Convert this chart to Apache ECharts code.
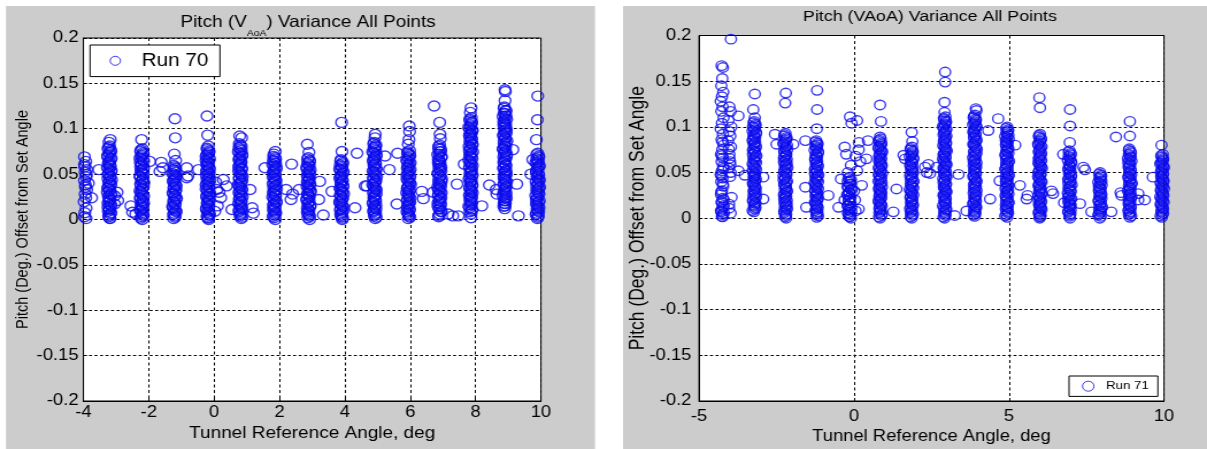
<!DOCTYPE html>
<html>
<head>
<meta charset="utf-8" />
<title>Pitch (VAoA) Variance All Points</title>
<script src="https://cdn.jsdelivr.net/npm/echarts@6.0.0/dist/echarts.min.js"></script>
<style>
  html, body { margin: 0; padding: 0; background: #fff; overflow: hidden; }
  /* the scanned figure is stretched sideways, so the chart is drawn narrower and stretched too */
  #main { width: 1050px; height: 449px; transform: scaleX(1.1495); transform-origin: 0 0; }
</style>
</head>
<body>
<div id="main"></div>
<script type="text/javascript">
// Run 70: [tunnel reference angle, pitch offset], grouped by set point
var run70 = [
  [-3.97,0.069],[-3.93,0.064],[-3.96,0.058],[-3.9,0.055],[-3.95,0.052],[-3.92,0.047],[-3.97,0.043],[-3.94,0.038],[-3.9,0.033],[-3.95,0.028],[-3.93,0.024],[-3.85,0.04],[-3.97,0.003],[-3.92,0.001],[-3.75,0.024],[-3.53,0.055],
  [-3.18,0.088],[-3.22,0.085],[-3.2,0.081],[-3.25,0.078],[-3.16,0.075],[-3.21,0.072],[-3.26,0.069],[-3.17,0.066],[-3.23,0.063],[-3.19,0.06],[-3.27,0.057],[-3.15,0.054],[-3.22,0.051],[-3.18,0.048],[-3.25,0.045],[-3.2,0.042],[-3.16,0.039],[-3.24,0.036],[-3.19,0.033],[-3.27,0.03],[-3.17,0.027],[-3.22,0.024],[-3.2,0.021],[-3.25,0.018],[-3.16,0.015],[-3.21,0.012],[-3.24,0.009],[-3.18,0.006],[-3.22,0.003],[-3.19,0.001],
  [-2.97,0.03],[-2.95,0.021],[-3.05,0.026],[-3.05,0.017],
  [-2.22,0.088],[-2.2,0.078],[-2.25,0.075],[-2.17,0.072],[-2.23,0.069],[-2.19,0.066],[-2.26,0.063],[-2.21,0.06],[-2.16,0.057],[-2.24,0.054],[-2.2,0.051],[-2.27,0.048],[-2.18,0.045],[-2.22,0.042],[-2.25,0.039],[-2.17,0.036],[-2.21,0.033],[-2.24,0.03],[-2.19,0.027],[-2.26,0.024],[-2.2,0.021],[-2.16,0.018],[-2.23,0.015],[-2.2,0.012],[-2.25,0.009],[-2.18,0.006],[-2.22,0.003],[-2.2,0.0],
  [-2.55,0.015],[-2.5,0.008],[-1.97,0.064],[-2.4,0.006],[-1.62,0.063],[-1.57,0.057],[-1.66,0.053],
  [-1.2,0.111],[-1.19,0.09],[-1.22,0.072],[-1.18,0.065],[-1.21,0.058],[-1.24,0.055],[-1.17,0.052],[-1.22,0.049],[-1.19,0.046],[-1.25,0.043],[-1.2,0.04],[-1.16,0.037],[-1.23,0.034],[-1.19,0.031],[-1.25,0.028],[-1.21,0.025],[-1.17,0.022],[-1.23,0.019],[-1.2,0.016],[-1.26,0.013],[-1.18,0.01],[-1.22,0.007],[-1.2,0.004],[-1.24,0.001],
  [-0.84,0.057],[-0.84,0.046],[-0.48,0.055],[-0.8,0.048],
  [-0.22,0.114],[-0.2,0.093],[-0.18,0.081],[-0.21,0.077],[-0.16,0.074],[-0.23,0.071],[-0.19,0.068],[-0.25,0.065],[-0.17,0.062],[-0.21,0.059],[-0.14,0.056],[-0.24,0.053],[-0.19,0.05],[-0.15,0.047],[-0.22,0.044],[-0.18,0.041],[-0.25,0.038],[-0.16,0.035],[-0.2,0.032],[-0.13,0.029],[-0.23,0.026],[-0.18,0.023],[-0.15,0.02],[-0.21,0.017],[-0.17,0.014],[-0.24,0.011],[-0.19,0.008],[-0.14,0.005],[-0.2,0.002],[-0.17,0.0],
  [0.08,0.033],[0.38,0.037],[0.28,0.044],[0.05,0.041],[0.15,0.03],[0.1,0.015],[0.2,0.024],[0.02,0.009],
  [0.78,0.092],[0.84,0.09],[0.8,0.082],[0.76,0.079],[0.83,0.076],[0.79,0.073],[0.85,0.07],[0.77,0.067],[0.82,0.064],[0.8,0.061],[0.75,0.058],[0.84,0.055],[0.79,0.052],[0.82,0.049],[0.77,0.046],[0.85,0.043],[0.8,0.04],[0.76,0.037],[0.83,0.034],[0.78,0.031],[0.81,0.028],[0.86,0.025],[0.77,0.022],[0.82,0.019],[0.79,0.016],[0.84,0.013],[0.76,0.01],[0.81,0.007],[0.79,0.004],[0.83,0.001],
  [1.1,0.033],[1.16,0.013],[1.2,0.007],[0.54,0.011],[1.55,0.057],
  [1.87,0.075],[1.83,0.072],[1.86,0.068],[1.81,0.065],[1.88,0.062],[1.84,0.059],[1.9,0.056],[1.82,0.053],[1.86,0.05],[1.8,0.047],[1.88,0.044],[1.84,0.041],[1.89,0.038],[1.82,0.035],[1.86,0.032],[1.81,0.029],[1.88,0.026],[1.84,0.023],[1.9,0.02],[1.83,0.017],[1.86,0.014],[1.81,0.011],[1.88,0.008],[1.85,0.005],[1.83,0.002],[1.87,0.0],
  [2.37,0.061],[2.2,0.033],[2.4,0.028],[2.35,0.022],
  [2.85,0.083],[2.9,0.074],[2.88,0.068],[2.92,0.065],[2.86,0.062],[2.91,0.059],[2.84,0.056],[2.89,0.053],[2.93,0.05],[2.87,0.047],[2.9,0.044],[2.85,0.041],[2.92,0.038],[2.88,0.035],[2.94,0.032],[2.86,0.029],[2.9,0.026],[2.84,0.023],[2.91,0.02],[2.87,0.017],[2.93,0.014],[2.88,0.011],[2.85,0.008],[2.9,0.005],[2.87,0.002],[2.92,0.0],
  [3.23,0.042],[3.2,0.022],[2.6,0.033],[3.34,0.005],[3.6,0.031],
  [3.9,0.107],[3.91,0.075],[3.88,0.066],[3.93,0.063],[3.86,0.06],[3.91,0.057],[3.87,0.054],[3.94,0.051],[3.89,0.048],[3.85,0.045],[3.92,0.042],[3.88,0.039],[3.94,0.036],[3.87,0.033],[3.91,0.03],[3.86,0.027],[3.93,0.024],[3.89,0.021],[3.85,0.018],[3.92,0.015],[3.88,0.012],[3.94,0.009],[3.87,0.006],[3.9,0.003],[3.92,0.0],
  [4.37,0.073],[4.31,0.013],[4.62,0.037],
  [4.93,0.094],[4.92,0.09],[4.9,0.085],[4.95,0.082],[4.89,0.079],[4.94,0.076],[4.88,0.073],[4.96,0.07],[4.91,0.067],[4.87,0.064],[4.94,0.061],[4.9,0.058],[4.96,0.055],[4.89,0.052],[4.93,0.049],[4.87,0.046],[4.95,0.043],[4.91,0.04],[4.88,0.037],[4.94,0.034],[4.9,0.031],[4.96,0.028],[4.89,0.025],[4.93,0.022],[4.87,0.019],[4.95,0.016],[4.91,0.013],[4.88,0.01],[4.94,0.007],[4.9,0.004],[4.93,0.001],
  [5.23,0.07],[5.36,0.055],[5.61,0.073],[5.59,0.017],[4.67,0.037],
  [5.97,0.103],[5.98,0.097],[5.96,0.088],[5.94,0.083],[5.98,0.076],[5.92,0.073],[5.99,0.07],[5.95,0.067],[5.91,0.064],[5.97,0.061],[5.93,0.058],[6.0,0.055],[5.94,0.052],[5.9,0.049],[5.97,0.046],[5.93,0.043],[5.99,0.04],[5.95,0.037],[5.91,0.034],[5.98,0.031],[5.94,0.028],[5.96,0.025],[5.92,0.022],[5.99,0.019],[5.95,0.016],[5.91,0.013],[5.97,0.01],[5.93,0.007],[5.96,0.004],[5.94,0.001],
  [6.35,0.031],[6.4,0.023],
  [6.73,0.125],[6.9,0.107],[6.91,0.094],[6.92,0.089],[6.9,0.082],[6.87,0.078],[6.93,0.075],[6.89,0.072],[6.95,0.069],[6.86,0.066],[6.91,0.063],[6.88,0.06],[6.94,0.057],[6.9,0.054],[6.85,0.051],[6.92,0.048],[6.88,0.045],[6.95,0.042],[6.89,0.039],[6.93,0.036],[6.86,0.033],[6.91,0.03],[6.87,0.027],[6.94,0.024],[6.9,0.021],[6.85,0.018],[6.92,0.015],[6.88,0.012],[6.95,0.009],[6.9,0.006],[6.87,0.003],
  [7.43,0.039],[7.16,0.006],[7.47,0.004],[6.7,0.03],[7.3,0.004],
  [7.86,0.123],[7.84,0.118],[7.87,0.112],[7.83,0.109],[7.88,0.106],[7.85,0.103],[7.82,0.1],[7.89,0.097],[7.86,0.094],[7.83,0.091],[7.88,0.088],[7.84,0.085],[7.9,0.082],[7.85,0.079],[7.81,0.076],[7.87,0.073],[7.84,0.07],[7.89,0.067],[7.83,0.064],[7.86,0.061],[7.82,0.058],[7.88,0.055],[7.85,0.052],[7.9,0.049],[7.83,0.046],[7.87,0.043],[7.84,0.04],[7.89,0.037],[7.82,0.034],[7.86,0.031],[7.84,0.028],[7.88,0.025],[7.83,0.022],[7.87,0.019],[7.85,0.016],[7.82,0.013],[7.88,0.01],[7.86,0.006],
  [8.19,0.015],[7.65,0.061],[8.42,0.038],[7.86,0.002],
  [8.9,0.143],[8.91,0.141],[8.9,0.131],[8.88,0.124],[8.92,0.12],[8.87,0.117],[8.93,0.114],[8.89,0.111],[8.86,0.108],[8.92,0.105],[8.88,0.102],[8.94,0.099],[8.9,0.096],[8.86,0.093],[8.91,0.09],[8.87,0.087],[8.93,0.084],[8.89,0.081],[8.85,0.078],[8.92,0.075],[8.88,0.072],[8.94,0.069],[8.9,0.066],[8.86,0.063],[8.91,0.06],[8.87,0.057],[8.93,0.054],[8.89,0.051],[8.92,0.048],[8.87,0.045],[8.91,0.042],[8.88,0.039],[8.93,0.036],[8.9,0.033],[8.86,0.03],[8.92,0.027],[8.88,0.024],[8.91,0.021],[8.87,0.018],[8.9,0.015],[8.89,0.012],
  [9.26,0.039],[9.31,0.004],[8.65,0.028],[8.63,0.033],[9.14,0.077],
  [9.9,0.136],[9.89,0.11],[9.86,0.088],[9.75,0.066],[9.69,0.05],[9.9,0.073],[9.93,0.07],[9.87,0.067],[9.92,0.064],[9.88,0.061],[9.94,0.058],[9.9,0.055],[9.86,0.052],[9.93,0.049],[9.89,0.046],[9.95,0.043],[9.91,0.04],[9.87,0.037],[9.93,0.034],[9.89,0.031],[9.94,0.028],[9.9,0.025],[9.86,0.022],[9.92,0.019],[9.88,0.016],[9.94,0.013],[9.9,0.01],[9.87,0.007],[9.92,0.004],[9.89,0.001]
];

// Run 70: the packed middle of each column
var run70Dense = [
  [-3.97,0.0605],[-3.91,0.0495],[-3.94,0.0355],[-3.98,0.0195],[-3.92,0.0125],[-3.96,0.0075],
  [-3.23,0.0795],[-3.17,0.0765],[-3.2,0.0735],[-3.26,0.0705],[-3.15,0.0675],[-3.21,0.0645],[-3.24,0.0615],[-3.18,0.0585],[-3.22,0.0555],[-3.16,0.0525],[-3.25,0.0495],[-3.19,0.0465],[-3.14,0.0435],[-3.23,0.0405],[-3.18,0.0375],[-3.26,0.0345],[-3.21,0.0315],[-3.15,0.0285],[-3.24,0.0255],[-3.19,0.0225],[-3.22,0.0195],[-3.17,0.0165],[-3.25,0.0135],[-3.2,0.0105],[-3.16,0.0075],[-3.23,0.0045],[-3.19,0.0015],
  [-2.24,0.0765],[-2.18,0.0735],[-2.21,0.0705],[-2.27,0.0675],[-2.16,0.0645],[-2.22,0.0615],[-2.25,0.0585],[-2.19,0.0555],[-2.23,0.0525],[-2.17,0.0495],[-2.26,0.0465],[-2.2,0.0435],[-2.15,0.0405],[-2.24,0.0375],[-2.19,0.0345],[-2.27,0.0315],[-2.22,0.0285],[-2.16,0.0255],[-2.25,0.0225],[-2.2,0.0195],[-2.23,0.0165],[-2.18,0.0135],[-2.26,0.0105],[-2.21,0.0075],[-2.17,0.0045],[-2.24,0.0015],
  [-1.24,0.0595],[-1.18,0.0565],[-1.21,0.0535],[-1.27,0.0505],[-1.16,0.0475],[-1.22,0.0445],[-1.25,0.0415],[-1.19,0.0385],[-1.23,0.0355],[-1.17,0.0325],[-1.26,0.0295],[-1.2,0.0265],[-1.15,0.0235],[-1.24,0.0205],[-1.19,0.0175],[-1.27,0.0145],[-1.22,0.0115],[-1.16,0.0085],[-1.25,0.0055],[-1.2,0.0025],
  [-0.22,0.0785],[-0.16,0.0755],[-0.19,0.0725],[-0.25,0.0695],[-0.14,0.0665],[-0.2,0.0635],[-0.23,0.0605],[-0.17,0.0575],[-0.21,0.0545],[-0.15,0.0515],[-0.24,0.0485],[-0.18,0.0455],[-0.13,0.0425],[-0.22,0.0395],[-0.17,0.0365],[-0.25,0.0335],[-0.2,0.0305],[-0.14,0.0275],[-0.23,0.0245],[-0.18,0.0215],[-0.21,0.0185],[-0.16,0.0155],[-0.24,0.0125],[-0.19,0.0095],[-0.15,0.0065],[-0.22,0.0035],[-0.18,0.0015],
  [0.77,0.0835],[0.83,0.0805],[0.8,0.0775],[0.74,0.0745],[0.85,0.0715],[0.79,0.0685],[0.76,0.0655],[0.82,0.0625],[0.78,0.0595],[0.84,0.0565],[0.75,0.0535],[0.81,0.0505],[0.86,0.0475],[0.77,0.0445],[0.82,0.0415],[0.74,0.0385],[0.79,0.0355],[0.85,0.0325],[0.76,0.0295],[0.81,0.0265],[0.78,0.0235],[0.83,0.0205],[0.75,0.0175],[0.8,0.0145],[0.84,0.0115],[0.77,0.0085],[0.81,0.0055],[0.85,0.0025],
  [1.82,0.0695],[1.88,0.0665],[1.85,0.0635],[1.79,0.0605],[1.9,0.0575],[1.84,0.0545],[1.81,0.0515],[1.87,0.0485],[1.83,0.0455],[1.89,0.0425],[1.8,0.0395],[1.86,0.0365],[1.91,0.0335],[1.82,0.0305],[1.87,0.0275],[1.79,0.0245],[1.84,0.0215],[1.9,0.0185],[1.81,0.0155],[1.86,0.0125],[1.83,0.0095],[1.88,0.0065],[1.8,0.0035],
  [2.86,0.0665],[2.92,0.0635],[2.89,0.0605],[2.83,0.0575],[2.94,0.0545],[2.88,0.0515],[2.85,0.0485],[2.91,0.0455],[2.87,0.0425],[2.93,0.0395],[2.84,0.0365],[2.9,0.0335],[2.95,0.0305],[2.86,0.0275],[2.91,0.0245],[2.83,0.0215],[2.88,0.0185],[2.94,0.0155],[2.85,0.0125],[2.9,0.0095],[2.87,0.0065],[2.92,0.0035],
  [3.87,0.0645],[3.93,0.0615],[3.9,0.0585],[3.84,0.0555],[3.95,0.0525],[3.89,0.0495],[3.86,0.0465],[3.92,0.0435],[3.88,0.0405],[3.94,0.0375],[3.85,0.0345],[3.91,0.0315],[3.96,0.0285],[3.87,0.0255],[3.92,0.0225],[3.84,0.0195],[3.89,0.0165],[3.95,0.0135],[3.86,0.0105],[3.91,0.0075],[3.88,0.0045],[3.93,0.0015],
  [4.88,0.0835],[4.94,0.0805],[4.91,0.0775],[4.85,0.0745],[4.96,0.0715],[4.9,0.0685],[4.87,0.0655],[4.93,0.0625],[4.89,0.0595],[4.95,0.0565],[4.86,0.0535],[4.92,0.0505],[4.97,0.0475],[4.88,0.0445],[4.93,0.0415],[4.85,0.0385],[4.9,0.0355],[4.96,0.0325],[4.87,0.0295],[4.92,0.0265],[4.89,0.0235],[4.94,0.0205],[4.86,0.0175],[4.91,0.0145],[4.95,0.0115],[4.88,0.0085],[4.92,0.0055],[4.96,0.0025],
  [5.92,0.0745],[5.98,0.0715],[5.95,0.0685],[5.89,0.0655],[6.0,0.0625],[5.94,0.0595],[5.91,0.0565],[5.97,0.0535],[5.93,0.0505],[5.99,0.0475],[5.9,0.0445],[5.96,0.0415],[6.01,0.0385],[5.92,0.0355],[5.97,0.0325],[5.89,0.0295],[5.94,0.0265],[6.0,0.0235],[5.91,0.0205],[5.96,0.0175],[5.93,0.0145],[5.98,0.0115],[5.9,0.0085],[5.95,0.0055],[5.99,0.0025],
  [6.87,0.0805],[6.93,0.0775],[6.9,0.0745],[6.84,0.0715],[6.95,0.0685],[6.89,0.0655],[6.86,0.0625],[6.92,0.0595],[6.88,0.0565],[6.94,0.0535],[6.85,0.0505],[6.91,0.0475],[6.96,0.0445],[6.87,0.0415],[6.92,0.0385],[6.84,0.0355],[6.89,0.0325],[6.95,0.0295],[6.86,0.0265],[6.91,0.0235],[6.88,0.0205],[6.93,0.0175],[6.85,0.0145],[6.9,0.0115],[6.94,0.0085],[6.87,0.0045],
  [7.82,0.1105],[7.88,0.1075],[7.85,0.1045],[7.79,0.1015],[7.9,0.0985],[7.84,0.0955],[7.81,0.0925],[7.87,0.0895],[7.83,0.0865],[7.89,0.0835],[7.8,0.0805],[7.86,0.0775],[7.91,0.0745],[7.82,0.0715],[7.87,0.0685],[7.79,0.0655],[7.84,0.0625],[7.9,0.0595],[7.81,0.0565],[7.86,0.0535],[7.83,0.0505],[7.88,0.0475],[7.8,0.0445],[7.85,0.0415],[7.89,0.0385],[7.82,0.0355],[7.86,0.0325],[7.9,0.0295],[7.81,0.0265],[7.87,0.0235],[7.84,0.0205],[7.88,0.0175],[7.79,0.0145],[7.89,0.0115],[7.83,0.0085],
  [8.87,0.1225],[8.93,0.1195],[8.9,0.1165],[8.84,0.1135],[8.95,0.1105],[8.89,0.1075],[8.86,0.1045],[8.92,0.1015],[8.88,0.0985],[8.94,0.0955],[8.85,0.0925],[8.91,0.0895],[8.96,0.0865],[8.87,0.0835],[8.92,0.0805],[8.84,0.0775],[8.89,0.0745],[8.95,0.0715],[8.86,0.0685],[8.91,0.0655],[8.88,0.0625],[8.93,0.0595],[8.85,0.0565],[8.9,0.0535],[8.94,0.0505],[8.87,0.0475],[8.91,0.0445],[8.95,0.0415],[8.86,0.0385],[8.92,0.0355],[8.89,0.0325],[8.93,0.0295],[8.84,0.0265],[8.94,0.0235],[8.88,0.0205],[8.91,0.0175],[8.86,0.0145],
  [9.87,0.0715],[9.93,0.0685],[9.9,0.0655],[9.84,0.0625],[9.95,0.0595],[9.89,0.0565],[9.86,0.0535],[9.92,0.0505],[9.88,0.0475],[9.94,0.0445],[9.85,0.0415],[9.91,0.0385],[9.96,0.0355],[9.87,0.0325],[9.92,0.0295],[9.84,0.0265],[9.89,0.0235],[9.95,0.0205],[9.86,0.0175],[9.91,0.0145],[9.88,0.0115],[9.93,0.0085],[9.85,0.0055],[9.9,0.0025]
];

// Run 71
var run71 = [
  [-4.27,0.167],[-4.23,0.165],[-4.25,0.153],[-4.28,0.145],[-4.22,0.138],[-4.26,0.133],[-4.3,0.128],[-4.24,0.122],[-4.28,0.117],[-4.21,0.11],[-4.26,0.104],[-4.3,0.098],[-4.23,0.092],[-4.27,0.086],[-4.21,0.08],[-4.25,0.075],[-4.29,0.07],[-4.23,0.066],[-4.27,0.062],[-4.22,0.057],[-4.26,0.052],[-4.3,0.048],[-4.24,0.044],[-4.28,0.04],[-4.22,0.035],[-4.26,0.03],[-4.29,0.026],[-4.23,0.022],[-4.27,0.018],[-4.21,0.014],[-4.25,0.01],[-4.28,0.007],[-4.24,0.004],[-4.26,0.002],
  [-3.97,0.196],[-4.02,0.122],[-3.98,0.117],[-3.73,0.112],[-4.05,0.107],[-3.96,0.1],[-4.03,0.095],[-3.99,0.09],[-4.06,0.085],[-3.97,0.078],[-4.02,0.07],[-4.0,0.062],[-4.04,0.055],[-3.98,0.05],[-3.95,0.023],[-4.03,0.011],[-3.52,0.047],[-3.73,0.052],
  [-3.2,0.136],[-3.25,0.119],[-3.2,0.11],[-3.22,0.106],[-3.18,0.103],[-3.26,0.1],[-3.21,0.097],[-3.16,0.094],[-3.24,0.091],[-3.19,0.088],[-3.27,0.085],[-3.22,0.082],[-3.17,0.079],[-3.23,0.076],[-3.2,0.073],[-3.26,0.07],[-3.18,0.067],[-3.22,0.064],[-3.16,0.061],[-3.24,0.058],[-3.2,0.055],[-3.27,0.052],[-3.19,0.049],[-3.23,0.046],[-3.17,0.043],[-3.21,0.04],[-3.25,0.037],[-3.19,0.034],[-3.22,0.031],[-3.17,0.028],[-3.24,0.025],[-3.2,0.022],[-3.26,0.019],[-3.18,0.016],[-3.22,0.013],[-3.2,0.01],[-3.23,0.007],
  [-2.93,0.045],[-2.93,0.021],
  [-2.2,0.137],[-2.22,0.126],[-2.21,0.093],[-2.25,0.09],[-2.18,0.087],[-2.23,0.084],[-2.27,0.081],[-2.2,0.078],[-2.16,0.075],[-2.24,0.072],[-2.19,0.069],[-2.26,0.066],[-2.21,0.063],[-2.17,0.06],[-2.23,0.057],[-2.2,0.054],[-2.25,0.051],[-2.18,0.048],[-2.22,0.045],[-2.27,0.042],[-2.19,0.039],[-2.24,0.036],[-2.2,0.033],[-2.16,0.03],[-2.23,0.027],[-2.19,0.024],[-2.25,0.021],[-2.21,0.018],[-2.17,0.015],[-2.23,0.012],[-2.2,0.009],[-2.24,0.006],[-2.21,0.003],[-2.19,0.0],
  [-2.55,0.092],[-2.5,0.081],[-1.96,0.081],[-1.57,0.085],[-1.57,0.034],[-1.54,0.012],
  [-1.19,0.14],[-1.19,0.119],[-1.2,0.098],[-1.22,0.085],[-1.18,0.082],[-1.24,0.079],[-1.2,0.076],[-1.16,0.073],[-1.23,0.07],[-1.19,0.067],[-1.25,0.064],[-1.21,0.061],[-1.17,0.058],[-1.23,0.055],[-1.2,0.052],[-1.26,0.049],[-1.18,0.046],[-1.22,0.043],[-1.16,0.04],[-1.24,0.037],[-1.2,0.034],[-1.25,0.031],[-1.19,0.028],[-1.23,0.025],[-1.17,0.022],[-1.21,0.019],[-1.24,0.016],[-1.19,0.013],[-1.22,0.01],[-1.18,0.007],[-1.21,0.004],[-1.2,0.001],
  [-0.83,0.025],
  [-0.13,0.111],[0.1,0.107],[-0.08,0.104],[-0.3,0.078],[0.16,0.083],[0.15,0.075],[-0.25,0.07],[0.2,0.062],[0.4,0.065],[0.45,0.085],[-0.42,0.043],[-0.5,0.012],[0.15,0.01],[0.25,0.036],[0.05,0.068],[-0.1,0.058],[0.1,0.052],[-0.2,0.05],
  [-0.15,0.045],[-0.1,0.042],[-0.2,0.04],[-0.12,0.037],[-0.18,0.034],[-0.08,0.031],[-0.16,0.028],[-0.22,0.026],[-0.11,0.023],[-0.17,0.02],[-0.13,0.017],[-0.2,0.014],[-0.09,0.012],[-0.15,0.009],[-0.19,0.006],[-0.12,0.004],[-0.16,0.002],[-0.1,0.0],[0.0,0.03],[0.03,0.02],[-0.3,0.02],[0.05,0.008],
  [0.84,0.124],[0.87,0.106],[0.84,0.089],[0.86,0.087],[0.82,0.084],[0.88,0.081],[0.8,0.078],[0.85,0.075],[0.9,0.072],[0.83,0.069],[0.87,0.066],[0.81,0.063],[0.86,0.06],[0.89,0.057],[0.82,0.054],[0.85,0.051],[0.8,0.048],[0.87,0.045],[0.83,0.042],[0.89,0.039],[0.84,0.036],[0.81,0.033],[0.86,0.03],[0.88,0.027],[0.82,0.024],[0.85,0.021],[0.8,0.018],[0.87,0.015],[0.83,0.012],[0.86,0.009],[0.82,0.006],[0.88,0.003],[0.84,0.0],
  [1.37,0.032],[1.27,0.007],
  [1.86,0.094],[1.88,0.084],[1.87,0.078],[1.83,0.075],[1.89,0.072],[1.85,0.069],[1.91,0.066],[1.84,0.063],[1.88,0.06],[1.82,0.057],[1.86,0.054],[1.9,0.051],[1.84,0.048],[1.87,0.045],[1.83,0.042],[1.89,0.039],[1.85,0.036],[1.91,0.033],[1.84,0.03],[1.87,0.027],[1.83,0.024],[1.88,0.021],[1.85,0.018],[1.9,0.015],[1.84,0.012],[1.87,0.009],[1.83,0.006],[1.88,0.003],[1.86,0.0],
  [1.6,0.069],[1.65,0.065],[2.29,0.056],[2.35,0.05],[2.45,0.049],[2.67,0.056],[2.4,0.059],
  [2.94,0.16],[2.94,0.149],[2.92,0.127],[2.92,0.116],[2.95,0.111],[2.91,0.108],[2.97,0.105],[2.93,0.102],[2.89,0.099],[2.96,0.096],[2.92,0.093],[2.98,0.09],[2.94,0.087],[2.9,0.084],[2.96,0.081],[2.92,0.078],[2.97,0.075],[2.93,0.072],[2.89,0.069],[2.95,0.066],[2.91,0.063],[2.97,0.06],[2.94,0.057],[2.9,0.054],[2.96,0.051],[2.92,0.048],[2.98,0.045],[2.93,0.042],[2.89,0.039],[2.95,0.036],[2.91,0.033],[2.97,0.03],[2.93,0.027],[2.9,0.024],[2.96,0.021],[2.92,0.018],[2.95,0.015],[2.91,0.012],[2.97,0.009],[2.93,0.006],[2.95,0.003],[2.92,0.0],
  [3.37,0.048],[3.25,0.003],[3.63,0.008],[4.39,0.021],
  [3.93,0.12],[3.95,0.118],[3.9,0.113],[3.86,0.11],[3.93,0.107],[3.88,0.104],[3.94,0.101],[3.9,0.098],[3.85,0.095],[3.92,0.092],[3.87,0.089],[3.95,0.086],[3.9,0.083],[3.86,0.08],[3.93,0.077],[3.89,0.074],[3.95,0.071],[3.88,0.068],[3.92,0.065],[3.86,0.062],[3.91,0.059],[3.94,0.056],[3.88,0.053],[3.92,0.05],[3.86,0.047],[3.9,0.044],[3.95,0.041],[3.89,0.038],[3.93,0.035],[3.87,0.032],[3.91,0.029],[3.94,0.026],[3.88,0.023],[3.92,0.02],[3.86,0.017],[3.9,0.014],[3.93,0.011],[3.88,0.008],[3.91,0.005],[3.89,0.002],
  [4.33,0.096],[4.65,0.109],
  [4.94,0.1],[4.97,0.097],[4.92,0.094],[4.98,0.091],[4.94,0.088],[4.9,0.085],[4.96,0.082],[5.2,0.08],[4.92,0.079],[4.98,0.076],[4.93,0.073],[4.89,0.07],[4.95,0.067],[4.91,0.064],[4.97,0.061],[4.93,0.058],[4.9,0.055],[4.96,0.052],[4.92,0.049],[4.98,0.046],[4.94,0.043],[4.9,0.04],[4.96,0.037],[4.92,0.034],[4.97,0.031],[4.93,0.028],[4.89,0.025],[4.95,0.022],[4.91,0.019],[4.97,0.016],[4.93,0.013],[4.9,0.01],[4.96,0.007],[4.92,0.004],[4.94,0.001],
  [5.35,0.036],[4.7,0.041],[5.57,0.021],[5.6,0.025],
  [5.98,0.132],[6.0,0.121],[6.0,0.092],[5.97,0.089],[6.03,0.086],[5.99,0.083],[5.95,0.08],[6.02,0.077],[5.98,0.074],[6.04,0.071],[6.0,0.068],[5.96,0.065],[6.02,0.062],[5.98,0.059],[6.04,0.056],[5.99,0.053],[5.95,0.05],[6.01,0.047],[5.97,0.044],[6.03,0.041],[5.99,0.038],[5.96,0.035],[6.02,0.032],[5.98,0.029],[6.04,0.026],[6.0,0.023],[5.96,0.02],[6.02,0.017],[5.98,0.014],[6.03,0.011],[5.99,0.008],[5.97,0.005],[6.01,0.002],[5.99,0.0],
  [6.37,0.03],[6.42,0.027],
  [6.97,0.119],[6.97,0.101],[6.96,0.083],[6.75,0.07],[6.95,0.074],[6.99,0.071],[6.93,0.068],[6.97,0.065],[7.0,0.062],[6.94,0.059],[6.98,0.056],[6.92,0.053],[6.96,0.05],[7.0,0.047],[6.94,0.044],[6.98,0.041],[6.92,0.038],[6.97,0.035],[6.93,0.032],[6.99,0.029],[6.95,0.026],[6.91,0.023],[6.97,0.02],[6.93,0.017],[6.99,0.014],[6.95,0.011],[6.92,0.008],[6.98,0.005],[6.95,0.002],[6.97,0.0],
  [7.29,0.016],[7.4,0.056],[7.45,0.053],[6.78,0.017],
  [7.94,0.05],[7.97,0.047],[7.92,0.044],[7.98,0.041],[7.94,0.038],[7.9,0.035],[7.96,0.032],[7.92,0.029],[7.98,0.026],[7.94,0.023],[7.9,0.02],[7.96,0.017],[7.92,0.014],[7.98,0.011],[7.94,0.008],[7.91,0.005],[7.96,0.002],[7.93,0.0],
  [7.66,0.007],[8.3,0.007],
  [8.9,0.106],[8.9,0.09],[8.88,0.076],[8.92,0.073],[8.87,0.07],[8.93,0.067],[8.89,0.064],[8.85,0.061],[8.91,0.058],[8.87,0.055],[8.93,0.052],[8.89,0.049],[8.86,0.046],[8.92,0.043],[8.88,0.04],[8.94,0.037],[8.9,0.034],[8.86,0.031],[8.92,0.028],[8.88,0.025],[8.93,0.022],[8.89,0.019],[8.86,0.016],[8.92,0.013],[8.88,0.01],[8.91,0.007],[8.87,0.004],[8.9,0.001],
  [8.45,0.089],[8.6,0.028],[8.63,0.025],[9.17,0.027],[9.17,0.02],[9.38,0.02],
  [9.92,0.08],[9.96,0.07],[9.93,0.067],[9.97,0.064],[9.91,0.061],[9.95,0.058],[9.99,0.055],[9.93,0.052],[9.97,0.049],[9.91,0.046],[9.95,0.043],[9.98,0.04],[9.92,0.037],[9.96,0.034],[9.9,0.031],[9.94,0.028],[9.98,0.025],[9.92,0.022],[9.96,0.019],[9.9,0.016],[9.94,0.013],[9.97,0.01],[9.92,0.007],[9.95,0.004],[9.93,0.001],
  [9.64,0.045]
];

// Run 71: the packed middle of each column
var run71Dense = [
  [-4.24,0.0015],[-4.2,0.0055],[-4.29,0.0085],[-4.22,0.0125],[-4.26,0.0165],[-4.21,0.0205],[-4.28,0.0285],[-4.23,0.0375],[-4.27,0.0465],[-4.22,0.0545],[-4.26,0.0685],[-4.24,0.0835],[-4.02,0.0655],[-3.99,0.0585],[-4.04,0.0755],[-4.0,0.0455],[-4.03,0.0155],[-3.98,0.0055],
  [-3.24,0.1045],[-3.18,0.1015],[-3.21,0.0985],[-3.27,0.0955],[-3.16,0.0925],[-3.22,0.0895],[-3.25,0.0865],[-3.19,0.0835],[-3.23,0.0805],[-3.17,0.0775],[-3.26,0.0745],[-3.2,0.0715],[-3.15,0.0685],[-3.24,0.0655],[-3.19,0.0625],[-3.27,0.0595],[-3.22,0.0565],[-3.16,0.0535],[-3.25,0.0505],[-3.2,0.0475],[-3.23,0.0445],[-3.18,0.0415],[-3.26,0.0385],[-3.21,0.0355],[-3.17,0.0325],[-3.24,0.0295],[-3.2,0.0265],[-3.16,0.0235],[-3.25,0.0205],[-3.19,0.0175],[-3.22,0.0145],[-3.18,0.0115],[-3.27,0.0085],
  [-2.24,0.0915],[-2.18,0.0885],[-2.21,0.0855],[-2.27,0.0825],[-2.16,0.0795],[-2.22,0.0765],[-2.25,0.0735],[-2.19,0.0705],[-2.23,0.0675],[-2.17,0.0645],[-2.26,0.0615],[-2.2,0.0585],[-2.15,0.0555],[-2.24,0.0525],[-2.19,0.0495],[-2.27,0.0465],[-2.22,0.0435],[-2.16,0.0405],[-2.25,0.0375],[-2.2,0.0345],[-2.23,0.0315],[-2.18,0.0285],[-2.26,0.0255],[-2.21,0.0225],[-2.17,0.0195],[-2.24,0.0165],[-2.2,0.0135],[-2.16,0.0105],[-2.25,0.0075],[-2.19,0.0045],[-2.22,0.0015],
  [-1.24,0.0835],[-1.18,0.0805],[-1.21,0.0775],[-1.27,0.0745],[-1.16,0.0715],[-1.22,0.0685],[-1.25,0.0655],[-1.19,0.0625],[-1.23,0.0595],[-1.17,0.0565],[-1.26,0.0535],[-1.2,0.0505],[-1.15,0.0475],[-1.24,0.0445],[-1.19,0.0415],[-1.27,0.0385],[-1.22,0.0355],[-1.16,0.0325],[-1.25,0.0295],[-1.2,0.0265],[-1.23,0.0235],[-1.18,0.0205],[-1.26,0.0175],[-1.21,0.0145],[-1.17,0.0115],[-1.24,0.0085],[-1.2,0.0055],[-1.16,0.0025],
  [-0.18,0.0435],[-0.12,0.0405],[-0.15,0.0375],[-0.21,0.0345],[-0.1,0.0315],[-0.16,0.0285],[-0.19,0.0255],[-0.13,0.0225],[-0.17,0.0195],[-0.11,0.0165],[-0.2,0.0135],[-0.14,0.0105],[-0.09,0.0075],[-0.18,0.0045],[-0.13,0.0015],
  [0.82,0.0855],[0.88,0.0825],[0.85,0.0795],[0.79,0.0765],[0.9,0.0735],[0.84,0.0705],[0.81,0.0675],[0.87,0.0645],[0.83,0.0615],[0.89,0.0585],[0.8,0.0555],[0.86,0.0525],[0.91,0.0495],[0.82,0.0465],[0.87,0.0435],[0.79,0.0405],[0.84,0.0375],[0.9,0.0345],[0.81,0.0315],[0.86,0.0285],[0.83,0.0255],[0.88,0.0225],[0.8,0.0195],[0.85,0.0165],[0.89,0.0135],[0.82,0.0105],[0.86,0.0075],[0.9,0.0045],[0.81,0.0015],
  [1.83,0.0765],[1.89,0.0735],[1.86,0.0705],[1.8,0.0675],[1.91,0.0645],[1.85,0.0615],[1.82,0.0585],[1.88,0.0555],[1.84,0.0525],[1.9,0.0495],[1.81,0.0465],[1.87,0.0435],[1.92,0.0405],[1.83,0.0375],[1.88,0.0345],[1.8,0.0315],[1.85,0.0285],[1.91,0.0255],[1.82,0.0225],[1.87,0.0195],[1.84,0.0165],[1.89,0.0135],[1.81,0.0105],[1.86,0.0075],[1.9,0.0045],[1.83,0.0015],
  [2.9,0.1095],[2.96,0.1065],[2.93,0.1035],[2.87,0.1005],[2.98,0.0975],[2.92,0.0945],[2.89,0.0915],[2.95,0.0885],[2.91,0.0855],[2.97,0.0825],[2.88,0.0795],[2.94,0.0765],[2.99,0.0735],[2.9,0.0705],[2.95,0.0675],[2.87,0.0645],[2.92,0.0615],[2.98,0.0585],[2.89,0.0555],[2.94,0.0525],[2.91,0.0495],[2.96,0.0465],[2.88,0.0435],[2.93,0.0405],[2.97,0.0375],[2.9,0.0345],[2.94,0.0315],[2.98,0.0285],[2.89,0.0255],[2.95,0.0225],[2.92,0.0195],[2.96,0.0165],[2.87,0.0135],[2.97,0.0105],[2.91,0.0075],[2.94,0.0045],[2.89,0.0015],
  [3.87,0.1115],[3.93,0.1085],[3.9,0.1055],[3.84,0.1025],[3.95,0.0995],[3.89,0.0965],[3.86,0.0935],[3.92,0.0905],[3.88,0.0875],[3.94,0.0845],[3.85,0.0815],[3.91,0.0785],[3.96,0.0755],[3.87,0.0725],[3.92,0.0695],[3.84,0.0665],[3.89,0.0635],[3.95,0.0605],[3.86,0.0575],[3.91,0.0545],[3.88,0.0515],[3.93,0.0485],[3.85,0.0455],[3.9,0.0425],[3.94,0.0395],[3.87,0.0365],[3.91,0.0335],[3.95,0.0305],[3.86,0.0275],[3.92,0.0245],[3.89,0.0215],[3.93,0.0185],[3.84,0.0155],[3.94,0.0125],[3.88,0.0095],[3.91,0.0065],[3.86,0.0035],
  [4.91,0.0985],[4.97,0.0955],[4.94,0.0925],[4.88,0.0895],[4.99,0.0865],[4.93,0.0835],[4.9,0.0805],[4.96,0.0775],[4.92,0.0745],[4.98,0.0715],[4.89,0.0685],[4.95,0.0655],[5.0,0.0625],[4.91,0.0595],[4.96,0.0565],[4.88,0.0535],[4.93,0.0505],[4.99,0.0475],[4.9,0.0445],[4.95,0.0415],[4.92,0.0385],[4.97,0.0355],[4.89,0.0325],[4.94,0.0295],[4.98,0.0265],[4.91,0.0235],[4.95,0.0205],[4.99,0.0175],[4.9,0.0145],[4.96,0.0115],[4.93,0.0085],[4.97,0.0055],[4.88,0.0025],
  [5.97,0.0905],[6.03,0.0875],[6.0,0.0845],[5.94,0.0815],[6.05,0.0785],[5.99,0.0755],[5.96,0.0725],[6.02,0.0695],[5.98,0.0665],[6.04,0.0635],[5.95,0.0605],[6.01,0.0575],[6.06,0.0545],[5.97,0.0515],[6.02,0.0485],[5.94,0.0455],[5.99,0.0425],[6.05,0.0395],[5.96,0.0365],[6.01,0.0335],[5.98,0.0305],[6.03,0.0275],[5.95,0.0245],[6.0,0.0215],[6.04,0.0185],[5.97,0.0155],[6.01,0.0125],[6.05,0.0095],[5.96,0.0065],[6.02,0.0035],[5.99,0.0015],
  [6.93,0.0725],[6.99,0.0695],[6.96,0.0665],[6.9,0.0635],[7.01,0.0605],[6.95,0.0575],[6.92,0.0545],[6.98,0.0515],[6.94,0.0485],[7.0,0.0455],[6.91,0.0425],[6.97,0.0395],[7.02,0.0365],[6.93,0.0335],[6.98,0.0305],[6.9,0.0275],[6.95,0.0245],[7.01,0.0215],[6.92,0.0185],[6.97,0.0155],[6.94,0.0125],[6.99,0.0095],[6.91,0.0065],[6.96,0.0035],
  [7.91,0.0485],[7.97,0.0455],[7.94,0.0425],[7.88,0.0395],[7.99,0.0365],[7.93,0.0335],[7.9,0.0305],[7.96,0.0275],[7.92,0.0245],[7.98,0.0215],[7.89,0.0185],[7.95,0.0155],[8.0,0.0125],[7.91,0.0095],[7.96,0.0065],[7.88,0.0035],
  [8.87,0.0745],[8.93,0.0715],[8.9,0.0685],[8.84,0.0655],[8.95,0.0625],[8.89,0.0595],[8.86,0.0565],[8.92,0.0535],[8.88,0.0505],[8.94,0.0475],[8.85,0.0445],[8.91,0.0415],[8.96,0.0385],[8.87,0.0355],[8.92,0.0325],[8.84,0.0295],[8.89,0.0265],[8.95,0.0235],[8.86,0.0205],[8.91,0.0175],[8.88,0.0145],[8.93,0.0115],[8.85,0.0085],[8.9,0.0055],[8.94,0.0025],
  [9.91,0.0685],[9.97,0.0655],[9.94,0.0625],[9.88,0.0595],[9.99,0.0565],[9.93,0.0535],[9.9,0.0505],[9.96,0.0475],[9.92,0.0445],[9.98,0.0415],[9.89,0.0385],[9.95,0.0355],[10.0,0.0325],[9.91,0.0295],[9.96,0.0265],[9.88,0.0235],[9.93,0.0205],[9.99,0.0175],[9.9,0.0145],[9.95,0.0115],[9.92,0.0085],[9.97,0.0055],[9.89,0.0025]
];

var FONT = '"Liberation Sans", Arial, Helvetica, sans-serif';
var BLUE = '#0a0aee';
var yName = 'Pitch (Deg.) Offset from Set Angle';
var xName = 'Tunnel Reference Angle, deg';

function xAxisOf(grid, min, max, step, nameSize, nameGap, margin) {
    return {
        gridIndex: grid, type: 'value', min: min, max: max, interval: step,
        name: xName, nameLocation: 'middle', nameGap: nameGap, nameMoveOverlap: false,
        nameTextStyle: { fontSize: nameSize, color: '#000', fontFamily: FONT },
        axisLine: { show: true, onZero: false, lineStyle: { color: '#000', width: 1 } },
        axisTick: { show: true, inside: true, length: 3, lineStyle: { color: '#000' } },
        axisLabel: { fontSize: 16, color: '#000', fontFamily: FONT, margin: margin },
        splitLine: { show: true, lineStyle: { color: '#000', width: 1, type: [3, 2.5] } }
    };
}

function yAxisOf(grid, nameSize, nameGap, margin) {
    return {
        gridIndex: grid, type: 'value', min: -0.2, max: 0.2, interval: 0.05,
        name: yName, nameLocation: 'middle', nameGap: nameGap, nameRotate: 90, nameMoveOverlap: false,
        nameTextStyle: { fontSize: nameSize, color: '#000', fontFamily: FONT },
        axisLine: { show: true, onZero: false, lineStyle: { color: '#000', width: 1 } },
        axisTick: { show: true, inside: true, length: 3, lineStyle: { color: '#000' } },
        axisLabel: { fontSize: 16, color: '#000', fontFamily: FONT, margin: margin },
        splitLine: { show: true, lineStyle: { color: '#000', width: 1, type: [2.6, 2.2] } }
    };
}

var circle = { color: 'rgba(0,0,0,0)', borderColor: BLUE, borderWidth: 1.4 };
var legendCircle = { color: 'rgba(0,0,0,0)', borderColor: BLUE, borderWidth: 1 };

var myChart = echarts.init(document.getElementById('main'));

var option = {
    animation: false,
    backgroundColor: '#fff',
    graphic: [
        { type: 'rect', z: -10, silent: true, shape: { x: 5.2, y: 6, width: 512.4, height: 443 }, style: { fill: '#cccccc' } },
        { type: 'rect', z: -10, silent: true, shape: { x: 542, y: 6, width: 508, height: 443 }, style: { fill: '#cccccc' } }
    ],
    title: [{
        text: '{a|Pitch (V}{s|AoA}{a|) Variance All Points}',
        left: 268, top: 7, textAlign: 'center', padding: 0,
        textStyle: {
            fontWeight: 'normal',
            rich: {
                a: { fontSize: 16.5, fontWeight: 'normal', color: '#000', fontFamily: FONT, lineHeight: 31 },
                s: { fontSize: 9, fontWeight: 'normal', color: '#000', fontFamily: FONT, lineHeight: 31, verticalAlign: 'bottom' }
            }
        }
    }, {
        text: 'Pitch (VAoA) Variance All Points',
        left: 809, top: 9, textAlign: 'center', padding: 0,
        textStyle: { fontSize: 15.5, fontWeight: 'normal', color: '#000', fontFamily: FONT }
    }],
    legend: [{
        data: ['Run 70'], left: 78.3, top: 45, orient: 'horizontal',
        padding: [6.8, 10, 6.8, 17], itemWidth: 36, itemHeight: 9, itemGap: 0,
        backgroundColor: '#fff', borderColor: '#000', borderWidth: 1, borderRadius: 0,
        icon: 'circle', itemStyle: legendCircle, selectedMode: false,
        textStyle: { fontSize: 18, color: '#000', fontFamily: FONT }
    }, {
        data: ['Run 71'], left: 930, top: 376, orient: 'horizontal',
        padding: [4.2, 8, 4.2, 11.2], itemWidth: 21, itemHeight: 10, itemGap: 0,
        backgroundColor: '#fff', borderColor: '#000', borderWidth: 1, borderRadius: 0,
        icon: 'circle', itemStyle: legendCircle, selectedMode: false,
        textStyle: { fontSize: 11.5, color: '#000', fontFamily: FONT }
    }],
    grid: [
        { left: 72.6, top: 38, width: 398, height: 363, show: true, backgroundColor: '#fff',
          borderColor: '#000', borderWidth: 1, outerBoundsMode: 'none', containLabel: false },
        { left: 608.1, top: 35.5, width: 404.5, height: 365.5, show: true, backgroundColor: '#fff',
          borderColor: '#000', borderWidth: 1, outerBoundsMode: 'none', containLabel: false }
    ],
    xAxis: [
        xAxisOf(0, -4, 10, 2, 16.5, 24, 4),
        xAxisOf(1, -5, 10, 5, 16, 28, 8)
    ],
    yAxis: [
        yAxisOf(0, 14.5, 45, 4.3),
        yAxisOf(1, 17.5, 44.4, 6.6)
    ],
    series: [{
        name: 'Run 70', type: 'scatter', xAxisIndex: 0, yAxisIndex: 0,
        symbol: 'circle', symbolSize: 10, itemStyle: circle, silent: true,
        data: run70.concat(run70Dense)
    }, {
        name: 'Run 71', type: 'scatter', xAxisIndex: 1, yAxisIndex: 1,
        symbol: 'circle', symbolSize: 9.5, itemStyle: circle, silent: true,
        data: run71.concat(run71Dense)
    }]
};

myChart.setOption(option);
</script>
</body>
</html>
